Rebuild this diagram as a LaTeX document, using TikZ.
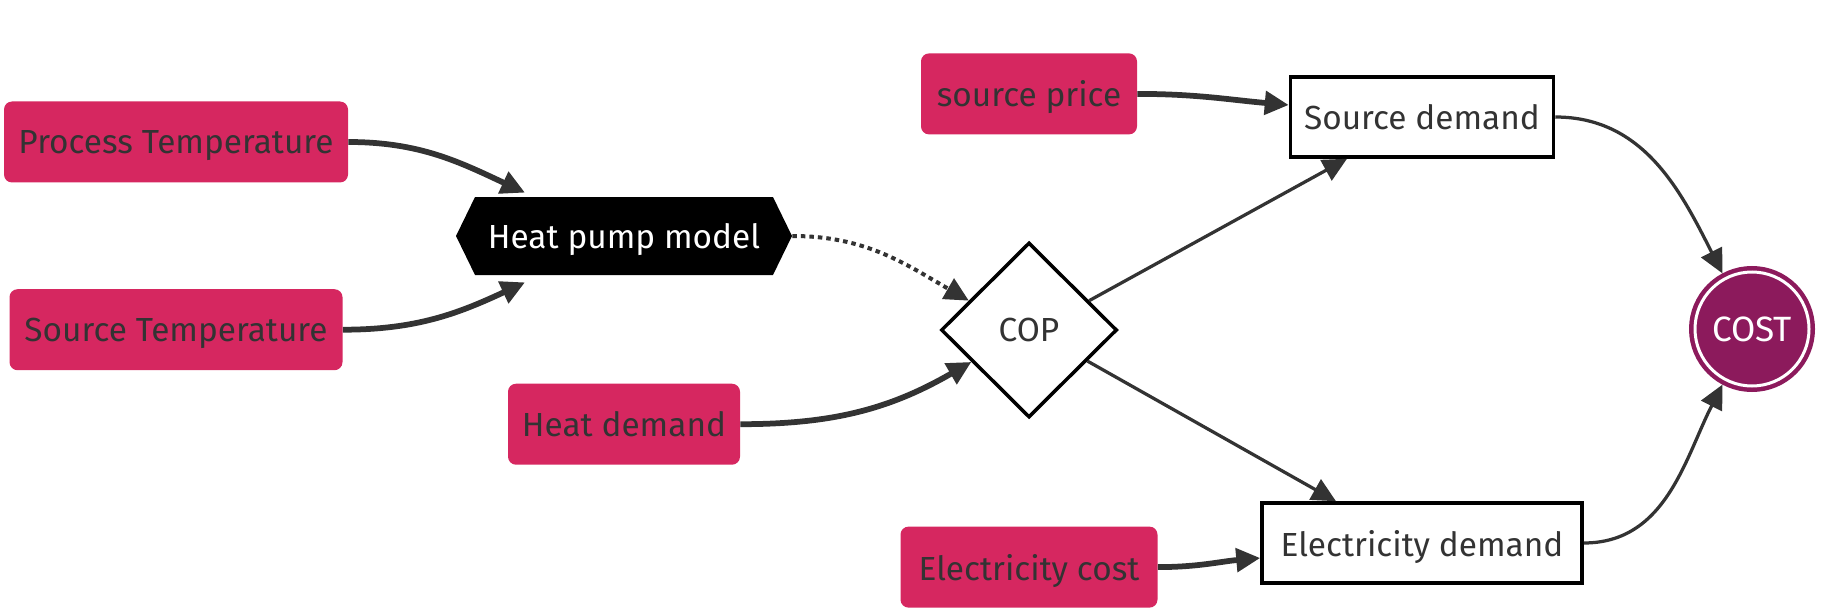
\documentclass[tikz,border=0pt]{standalone}
\usepackage{fontspec}
\setmainfont{Fira Sans}
\usepackage{tikz}
\usetikzlibrary{shapes.geometric,shapes.symbols,positioning,arrows.meta}
\definecolor{pinkbox}{HTML}{D62760}
\definecolor{costpurple}{HTML}{8C1A5C}
\definecolor{linegrey}{HTML}{333333}
\tikzset{
input_box/.style={rectangle, rounded corners=0.16cm, fill=pinkbox, text=linegrey, minimum height=1.62cm, inner xsep=0.2cm, text depth=0pt, font=\fontsize{19}{22}\selectfont},
model_box/.style={signal, signal to=east and west, signal pointer angle=128, fill=black, text=white, minimum height=1.56cm, minimum width=6.72cm, inner xsep=0.1cm, text depth=0pt, font=\fontsize{19}{22}\selectfont},
decision/.style={diamond, draw=black, line width=0.07cm, fill=white, minimum width=3.52cm, minimum height=3.5cm, inner sep=0pt, text=linegrey, font=\fontsize{19}{22}\selectfont},
result_box/.style={rectangle, draw=black, line width=0.07cm, fill=white, minimum height=1.6cm, text=linegrey, text depth=0pt, font=\fontsize{19}{22}\selectfont},
goal_circle/.style={circle, fill=costpurple, draw=costpurple, double=white, double distance=0.06cm, line width=0.09cm, minimum size=2.28cm, outer sep=0.12cm, text=white, font=\fontsize{20}{23}\selectfont},
flow/.style={-{Triangle[length=0.48cm,width=0.46cm]}, draw=linegrey, line width=0.065cm},
thick_flow/.style={flow, line width=0.115cm},
dotted_flow/.style={flow, line width=0.08cm, dash pattern=on 0.09cm off 0.08cm}
}

\begin{document}
\begin{tikzpicture}
    \useasboundingbox (0,0) rectangle (36.74,-12.24);
    % inputs and model
    \node[input_box, minimum width=6.88cm] (proc_temp) at (3.52,-2.84) {Process Temperature};
    \node[input_box, minimum width=6.66cm] (src_temp) [below=2.12 of proc_temp] {Source Temperature};
    \node[model_box] (hp_model) at (12.48,-4.72) {Heat pump model};
    \node[input_box, minimum width=4.64cm] (heat_dem) [below=2.16 of hp_model] {Heat demand};
    % cop and prices
    \node[decision] (cop) at (20.58,-6.60) {COP};
    \node[input_box, minimum width=4.32cm] (src_price) [above=2.12 of cop] {source price};
    \node[input_box, minimum width=5.14cm] (elec_cost) [below=2.14 of cop] {Electricity cost};
    % demands and cost
    \node[result_box, minimum width=5.26cm] (src_dem) at (28.44,-2.34) {Source demand};
    \node[result_box, minimum width=6.40cm] (elec_dem) at (28.44,-10.86) {Electricity demand};
    \node[goal_circle] (cost) at (35.04,-6.58) {COST};

    \draw[thick_flow] (proc_temp.east) to[out=0,in=155] ([xshift=-1.98cm,yshift=0.08cm]hp_model.north);
    \draw[thick_flow] (src_temp.east) to[out=0,in=205] ([xshift=-1.98cm,yshift=-0.14cm]hp_model.south);
    \draw[dotted_flow] (hp_model.east) to[out=0,in=150] (cop.154);
    \draw[thick_flow] (heat_dem.east) to[out=0,in=210] (cop.209);
    \draw[thick_flow] (src_price.east) to[out=0,in=175] ([yshift=0.24cm]src_dem.west);
    \draw[thick_flow] (elec_cost.east) to[out=0,in=185] ([yshift=-0.3cm]elec_dem.west);
    \draw[flow] (cop.26) -- ([xshift=-1.5cm]src_dem.south);
    \draw[flow] (cop.-28) -- ([xshift=-1.72cm]elec_dem.north);
    \draw[flow] (src_dem.east) to[out=0,in=117] (cost.118);
    \draw[flow] (elec_dem.east) to[out=0,in=243] (cost.242);
\end{tikzpicture}
\end{document}
